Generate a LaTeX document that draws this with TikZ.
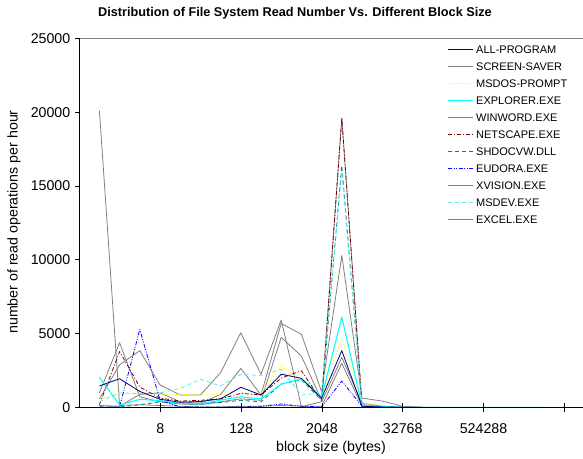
\documentclass[tikz,border=0pt]{standalone}
\usepackage{fontspec}
\setmainfont{Liberation Sans}
\definecolor{navyc}{RGB}{0,0,128}
\definecolor{grayc}{RGB}{128,128,128}
\definecolor{yellowc}{RGB}{255,255,0}
\definecolor{cyanc}{RGB}{0,255,255}
\definecolor{lcyanc}{RGB}{90,235,245}
\definecolor{dredc}{RGB}{128,0,0}
\definecolor{tealc}{RGB}{0,128,128}
\definecolor{bluec}{RGB}{0,0,255}
\newcommand\dataline[3]{\draw[#1] (0,#2) \foreach \v [count=\i from 1] in {#3} {-- (\i,\v)};}
\begin{document}
\begin{tikzpicture}[x=1pt,y=1pt,font=\fontsize{14.2}{16}\selectfont,
  sline/.style={line width=0.8pt,line join=round},
  allprog/.style={sline,draw=navyc},
  grayser/.style={sline,draw=grayc},
  msdos/.style={sline,draw=yellowc,dash pattern=on 1pt off 1.5pt},
  explorer/.style={sline,draw=cyanc,line width=1.1pt},
  netscape/.style={sline,draw=dredc,dash pattern=on 4pt off 2pt on 1pt off 2pt},
  shdoc/.style={sline,draw=tealc,dash pattern=on 4pt off 3pt},
  eudora/.style={sline,draw=bluec,dash pattern=on 4pt off 1.5pt on 1pt off 1.5pt on 1pt off 1.5pt},
  msdev/.style={sline,draw=lcyanc,dash pattern=on 4pt off 3pt},
  legline/.style={line width=1pt},
  legtext/.style={anchor=west,inner sep=0pt,font=\fontsize{11}{13}\selectfont},
  ticklab/.style={inner sep=0pt}]
\useasboundingbox (0,0) rectangle (583,458);
\fill[white] (0,0) rectangle (583,458);

\node[font=\bfseries\fontsize{12.7}{14}\selectfont] (title) at (295,445) {Distribution of File System Read Number Vs. Different Block Size};

% data
\begin{scope}[shift={(99.4pt,50.3pt)},x=20.2pt,y=14.78pt]
\dataline{grayser}{20.1}{0.15,0.2,0.15,0.1,0.05,0.05,0.1,0.1,0.15,0.1,0.1,3.0,0.1,0.05,0.02,0.01,0.01,0.01,0.01,0.01,0.01,0.01}
\dataline{grayser}{1.0}{4.4,0.74,0.4,0.25,0.2,0.4,0.6,0.5,4.76,3.5,0.5,19.6,0.2,0.05,0.02,0.01,0.01,0.01,0.01,0.01,0.01,0.01}
\dataline{grayser}{0.6}{2.9,3.86,1.54,0.86,0.86,2.37,5.07,2.26,5.93,0.07,0.4,3.4,0.3,0.1,0.02,0.01,0.01,0.01,0.01,0.01,0.01,0.01}
\dataline{grayser}{0.15}{0.1,0.9,1.0,0.4,0.3,0.9,2.66,0.86,5.7,4.97,1.08,10.3,0.65,0.45,0.1,0.03,0.02,0.02,0.01,0.01,0.01,0.01}
\dataline{msdos}{0.59}{0.97,1.0,0.9,0.9,0.86,0.9,0.97,0.97,2.82,1.87,0.74,4.7,0.3,0.1,0.03,0.02,0.01,0.01,0.01,0.01,0.01,0.01}
\dataline{netscape}{0.2}{3.8,1.4,0.65,0.45,0.5,0.6,0.97,0.86,2.0,2.5,0.47,19.6,0.15,0.1,0.02,0.01,0.01,0.01,0.01,0.01,0.01,0.01}
\dataline{shdoc}{0.05}{0.05,0.2,0.4,0.3,0.3,0.35,0.5,0.4,1.6,1.9,0.5,16.4,0.1,0.05,0.02,0.01,0.01,0.01,0.01,0.01,0.01,0.01}
\dataline{msdev}{0.4}{1.0,0.95,1.0,1.3,1.92,1.47,2.26,2.17,2.6,0.86,1.0,16.0,0.2,0.05,0.03,0.02,0.02,0.02,0.02,0.02,0.02,0.02}
\dataline{eudora}{0.05}{0.05,5.3,0.5,0.05,0.05,0.05,0.05,0.1,0.25,0.1,0.05,1.8,0.1,0.05,0.02,0.01,0.01,0.01,0.01,0.01,0.01,0.01}
\dataline{explorer}{2.06}{0.18,0.57,0.47,0.3,0.25,0.52,0.74,0.59,1.6,1.94,0.7,6.12,0.15,0.08,0.03,0.02,0.02,0.02,0.02,0.02,0.02,0.02}
\dataline{allprog}{1.47}{1.96,1.1,0.57,0.37,0.42,0.6,1.38,0.86,2.26,1.99,0.64,3.86,0.1,0.05,0.03,0.02,0.01,0.01,0.01,0.01,0.01,0.01}
\end{scope}

% axes
\coordinate (orig) at (79.5,50.5);
\coordinate (ytop) at (79.5,419.5);
\coordinate (xend) at (583,50.5);
\coordinate (topend) at (583,419.5);
\draw[grayc,line width=0.8pt] (ytop) -- (topend);
\draw[line width=1pt] (orig) -- (ytop);
\draw[line width=1pt] (orig) -- (xend);
\foreach \k/\lab in {0/0,1/5000,2/10000,3/15000,4/20000,5/25000}{
  \draw[line width=0.8pt] (75,50.5+73.8*\k) -- (79.5,50.5+73.8*\k);
  \node[ticklab,anchor=east] (ylab\k) at (70.5,50.5+73.8*\k) {\lab};
}
\foreach \k in {1,...,6}{
  \draw[line width=0.8pt] (79.5+80.8*\k,45.6) -- (79.5+80.8*\k,55);
}
\foreach \k/\lab in {1/8,2/128,3/2048,4/32768,5/524288}{
  \node[ticklab] (xlab\k) at (79.5+80.8*\k,29.3) {\lab};
}
\node[ticklab] (xtitle) at (331,10) {block size (bytes)};
\node[ticklab,rotate=90] (ytitle) at (14,236) {number of read operations per hour};

% legend
\coordinate (la0) at (448,408.5); \coordinate (lb0) at (473,408.5);
\coordinate (la1) at (448,391.5); \coordinate (lb1) at (473,391.5);
\coordinate (la2) at (448,374.5); \coordinate (lb2) at (473,374.5);
\coordinate (la3) at (448,357.5); \coordinate (lb3) at (473,357.5);
\coordinate (la4) at (448,340.5); \coordinate (lb4) at (473,340.5);
\coordinate (la5) at (448,323.5); \coordinate (lb5) at (473,323.5);
\coordinate (la6) at (448,306.5); \coordinate (lb6) at (473,306.5);
\coordinate (la7) at (448,289.5); \coordinate (lb7) at (473,289.5);
\coordinate (la8) at (448,272.5); \coordinate (lb8) at (473,272.5);
\coordinate (la9) at (448,255.5); \coordinate (lb9) at (473,255.5);
\coordinate (la10) at (448,238.5);\coordinate (lb10) at (473,238.5);
\draw[allprog,legline] (la0) -- (lb0);
\draw[grayser,legline] (la1) -- (lb1);
\draw[msdos,legline] (la2) -- (lb2);
\draw[explorer,legline] (la3) -- (lb3);
\draw[grayser,legline] (la4) -- (lb4);
\draw[netscape,legline] (la5) -- (lb5);
\draw[shdoc,legline] (la6) -- (lb6);
\draw[eudora,legline] (la7) -- (lb7);
\draw[grayser,legline] (la8) -- (lb8);
\draw[msdev,legline] (la9) -- (lb9);
\draw[grayser,legline] (la10) -- (lb10);
\node[legtext] (leg0) at (476,408.5) {ALL-PROGRAM};
\node[legtext] (leg1) at (476,391.5) {SCREEN-SAVER};
\node[legtext] (leg2) at (476,374.5) {MSDOS-PROMPT};
\node[legtext] (leg3) at (476,357.5) {EXPLORER.EXE};
\node[legtext] (leg4) at (476,340.5) {WINWORD.EXE};
\node[legtext] (leg5) at (476,323.5) {NETSCAPE.EXE};
\node[legtext] (leg6) at (476,306.5) {SHDOCVW.DLL};
\node[legtext] (leg7) at (476,289.5) {EUDORA.EXE};
\node[legtext] (leg8) at (476,272.5) {XVISION.EXE};
\node[legtext] (leg9) at (476,255.5) {MSDEV.EXE};
\node[legtext] (leg10) at (476,238.5) {EXCEL.EXE};
\end{tikzpicture}
\end{document}
